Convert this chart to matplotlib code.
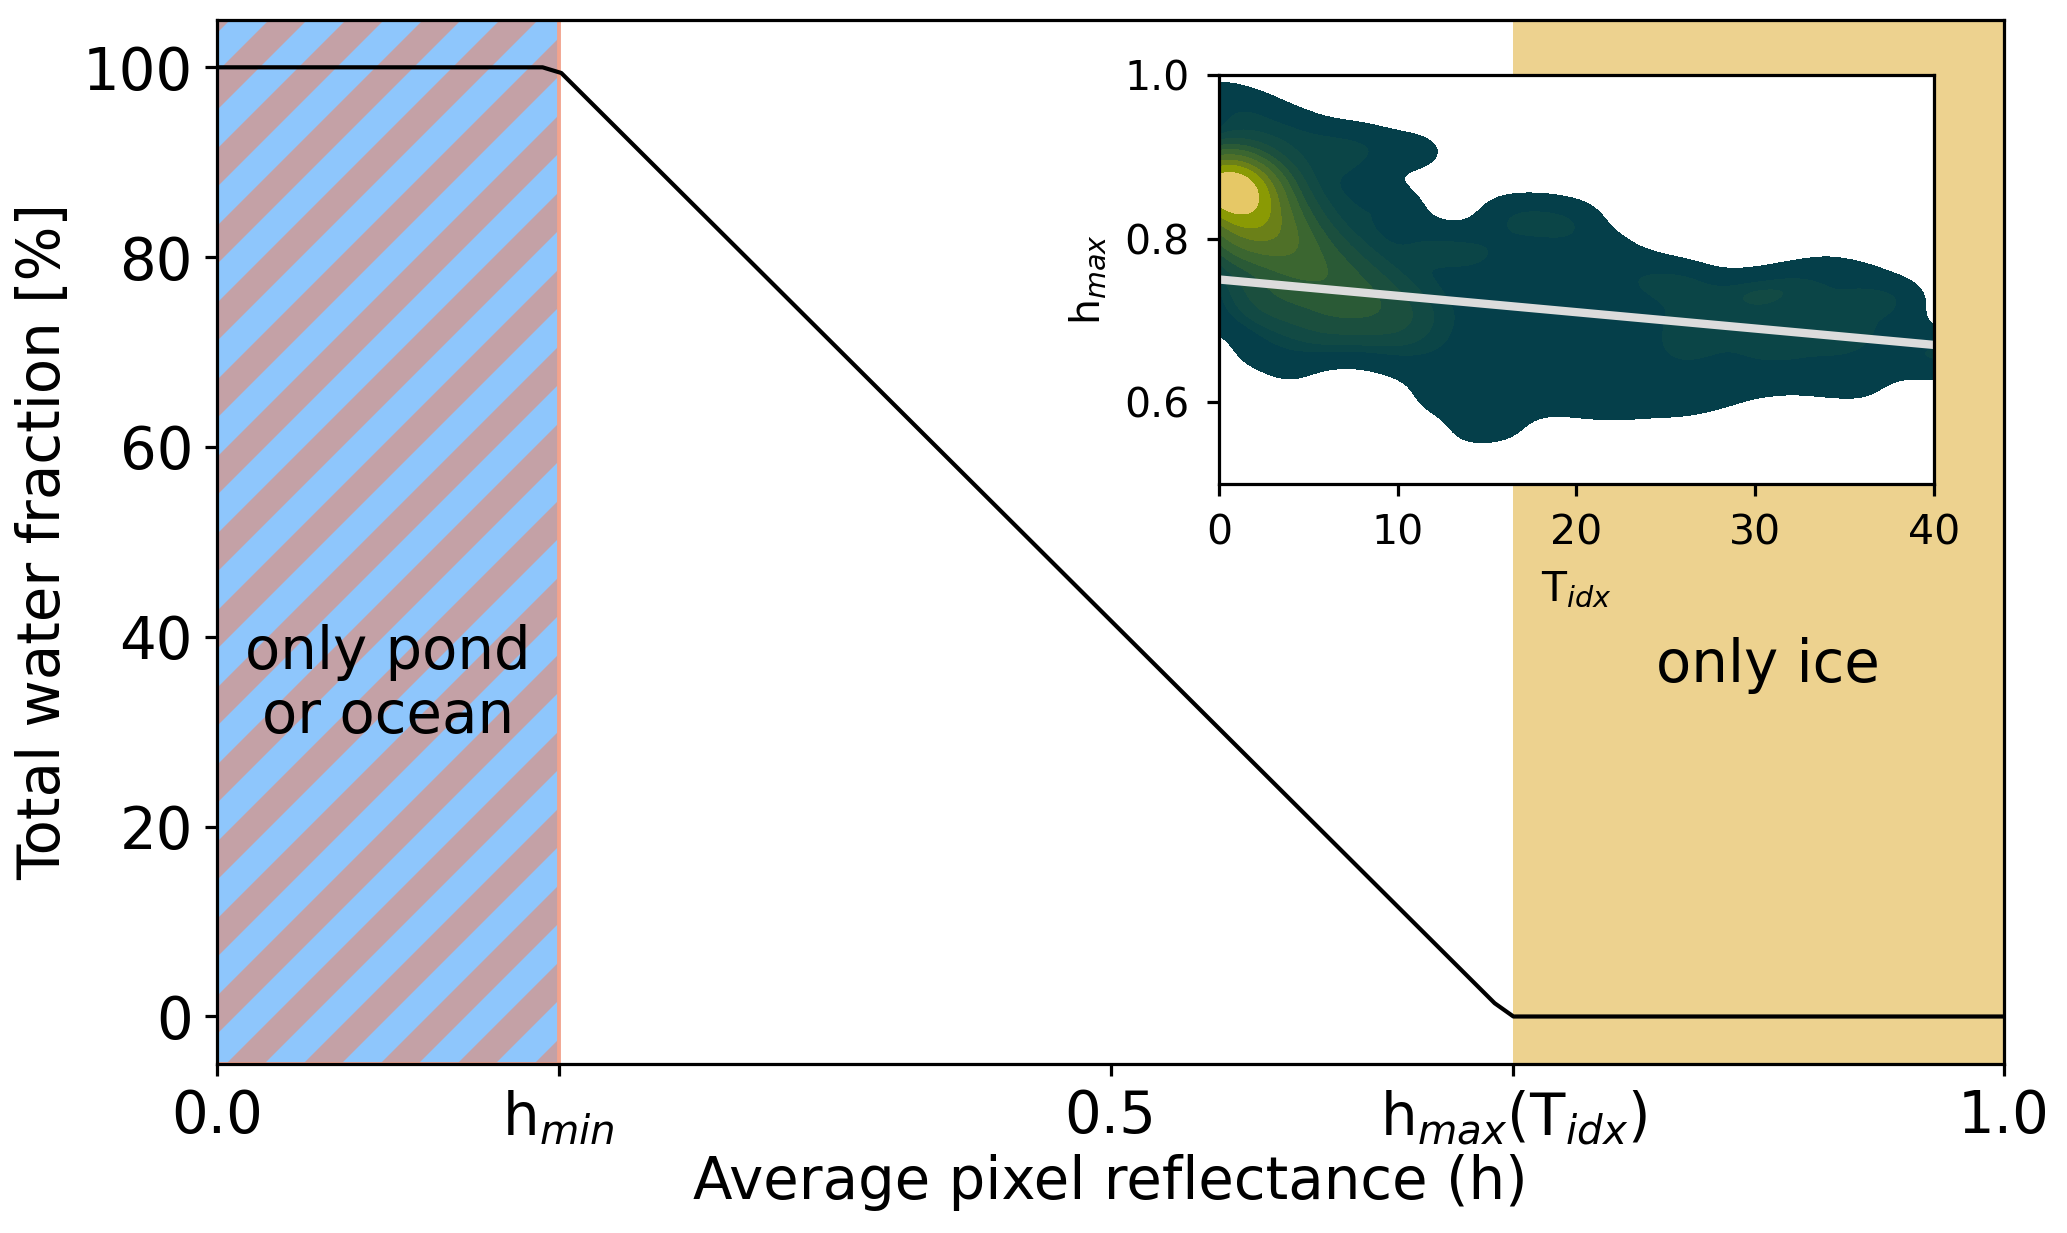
import numpy as np
import matplotlib.pyplot as plt

# main curve: water fraction vs average pixel reflectance
h_vals = [0.0, 0.182, 0.1925, 0.715, 0.7255, 1.0]
water_frac = [100, 100, 99.4, 1.4, 0, 0]
h_min = 0.191
h_max = 0.7255

x_ticks = [0.0, h_min, 0.5, h_max, 1.0]
x_ticklabels = ['0.0', r'h$_{min}$', '0.5', r'h$_{max}$(T$_{idx}$)', '1.0']
y_ticks = [0, 20, 40, 60, 80, 100]

# inset: samples of (T_idx, h_max)
sample_T = [0, 2, 4, 6, 8, 10, 11.5, 12, 14, 16, 18, 20, 22, 24, 26, 28, 30,
            32, 34, 36, 38, 40, 42]
sample_h = [
    [0.705, 0.74, 0.775, 0.81, 0.845, 0.88, 0.915, 0.95, 0.978],
    [0.66, 0.695, 0.73, 0.765, 0.80, 0.835, 0.87, 0.905, 0.94, 0.962],
    [0.64, 0.675, 0.71, 0.745, 0.78, 0.815, 0.85, 0.885, 0.92, 0.942],
    [0.665, 0.70, 0.735, 0.77, 0.805, 0.84, 0.875, 0.905, 0.925],
    [0.665, 0.70, 0.735, 0.77, 0.805, 0.84, 0.87, 0.90, 0.922],
    [0.65, 0.685, 0.72, 0.755, 0.79, 0.825, 0.845, 0.91],
    [0.905],
    [0.605, 0.64, 0.675, 0.71, 0.745, 0.78, 0.80],
    [0.565, 0.60, 0.635, 0.67, 0.705, 0.74, 0.775, 0.795],
    [0.57, 0.605, 0.64, 0.675, 0.71, 0.745, 0.78, 0.815, 0.835],
    [0.605, 0.64, 0.675, 0.71, 0.745, 0.78, 0.815, 0.835],
    [0.60, 0.635, 0.67, 0.705, 0.74, 0.775, 0.81, 0.828],
    [0.595, 0.63, 0.72, 0.755, 0.79],
    [0.60, 0.635, 0.67, 0.705, 0.74, 0.765],
    [0.60, 0.635, 0.67, 0.705, 0.74, 0.752],
    [0.61, 0.645, 0.68, 0.715, 0.74],
    [0.625, 0.66, 0.695, 0.73, 0.738],
    [0.63, 0.665, 0.70, 0.735, 0.75],
    [0.625, 0.66, 0.695, 0.73, 0.762],
    [0.62, 0.655, 0.69, 0.725, 0.752],
    [0.65, 0.685, 0.72, 0.732],
    [0.65, 0.668],
    [0.645, 0.665],
]
# denser clusters (T, h, weight)
peak_T = [0.3, 1.5, 2.5, 4, 1.0, 6, 8, 3, 10, 6, 26, 31, 35]
peak_h = [0.865, 0.85, 0.82, 0.79, 0.80, 0.76, 0.73, 0.73, 0.70, 0.70, 0.68, 0.68, 0.685]
peak_w = [15, 5, 4.5, 3.5, 3, 2.5, 2, 2, 1.6, 1.5, 0.6, 0.6, 0.5]

# fitted line in inset
fit_T = [0, 40]
fit_h = [0.75, 0.67]

DPI = 462
plt.rcParams['hatch.linewidth'] = 4.2
fig = plt.figure(figsize=(2067 / DPI, 1233 / DPI), dpi=DPI)
ax = fig.add_axes([0.1052, 0.1371, 0.8642, 0.8468])

ax.axvspan(0, h_min, facecolor='#8ec6fc', edgecolor='#c4a1a6', hatch='//', lw=0)
ax.axvspan(0, h_min, facecolor='none', edgecolor='#f2a48e', lw=0.6)
ax.axvspan(h_max, 1.0, facecolor='#edd28f', lw=0)
ax.plot(h_vals, water_frac, color='black', lw=0.65)

ax.set_xlim(0, 1)
ax.set_ylim(-5, 105)
ax.set_xticks(x_ticks)
ax.set_xticklabels(x_ticklabels)
ax.set_yticks(y_ticks)
ax.tick_params(labelsize=9, width=0.5, length=1.8, pad=2)
for s in ax.spines.values():
    s.set_linewidth(0.5)
ax.set_xlabel('Average pixel reflectance (h)', fontsize=9, labelpad=1)
ax.set_ylabel('Total water fraction [%]', fontsize=9, labelpad=1.6)

ax.text(h_min / 2, 35.0, 'only pond\nor ocean', fontsize=9, ha='center', va='center',
        linespacing=1.15)
ax.text(0.868, 37, 'only ice', fontsize=9, ha='center', va='center')

# inset density plot
ins = fig.add_axes([0.5897, 0.6075, 0.3459, 0.3317])
ins.set_facecolor('white')
gT, gh = np.meshgrid(np.linspace(0, 40, 321), np.linspace(0.5, 1.0, 301))
dens = np.zeros_like(gT)
for t, hs in zip(sample_T, sample_h):
    for hv in hs:
        dens += np.exp(-0.5 * ((gT - t) / 1.3) ** 2 - 0.5 * ((gh - hv) / 0.02) ** 2)
for t, hv, w in zip(peak_T, peak_h, peak_w):
    dens += w * np.exp(-0.5 * ((gT - t) / 1.8) ** 2 - 0.5 * ((gh - hv) / 0.028) ** 2)

levels = [1.1, 2.7, 3.3, 4.2, 5.5, 7, 9, 11.5, 14, 17.5, dens.max() + 1]
colors = ['#053f4a', '#0b4547', '#124a44', '#1b4f3e', '#2a5a36', '#3b6630',
          '#4f7028', '#6b8018', '#8a9a04', '#e6c866']
ins.contourf(gT, gh, dens, levels=levels, colors=colors)
ins.plot(fit_T, fit_h, color='#dcdcdc', lw=1.3)

ins.set_xlim(0, 40)
ins.set_ylim(0.5, 1.0)
ins.set_xticks([0, 10, 20, 30, 40])
ins.set_yticks([0.6, 0.8, 1.0])
ins.tick_params(labelsize=6.4, width=0.5, length=1.8, pad=2.8)
for s in ins.spines.values():
    s.set_linewidth(0.5)
ins.set_xlabel(r'T$_{idx}$', fontsize=6.4, labelpad=2.5)
ins.set_ylabel(r'h$_{max}$', fontsize=6.4, labelpad=2.5)

fig.savefig('out.png', dpi=DPI)
